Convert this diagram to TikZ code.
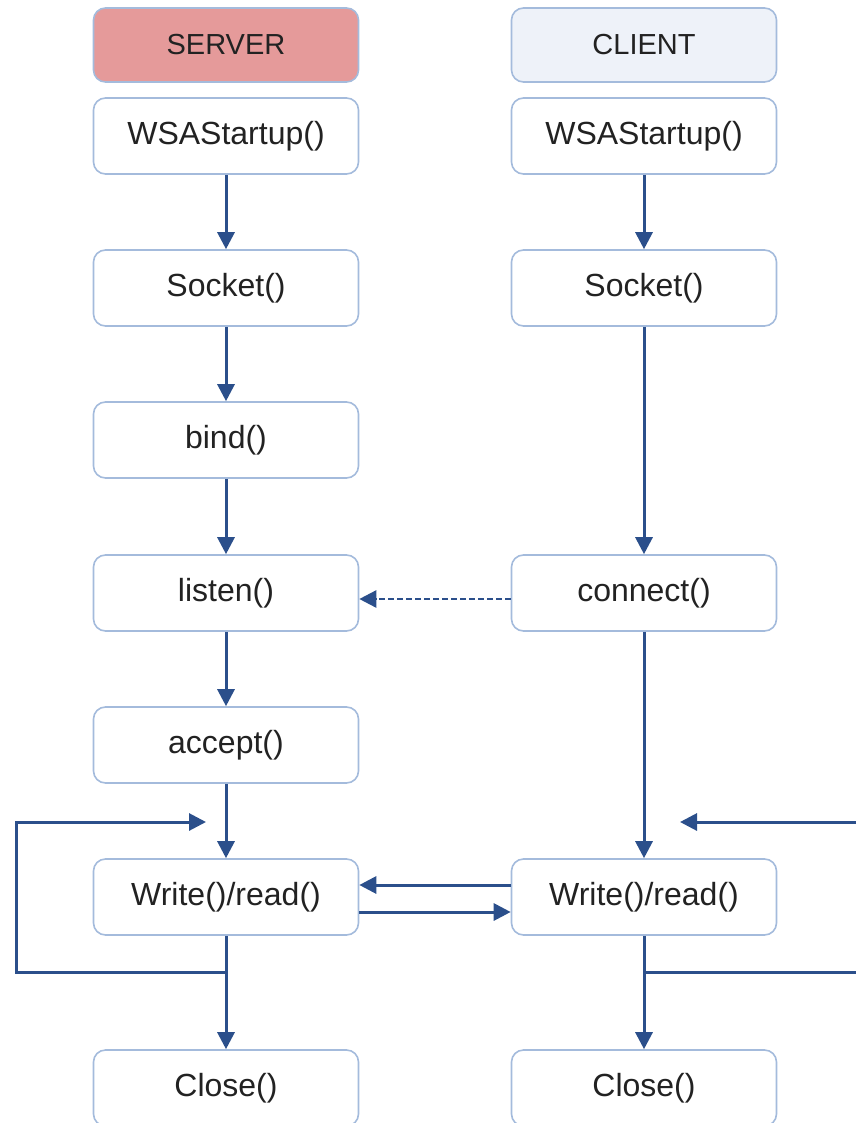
\documentclass[tikz,border=0pt]{standalone}
\usepackage{fontspec}
\setmainfont{Liberation Sans}
\usetikzlibrary{arrows.meta}
\definecolor{boxline}{HTML}{A4BBDC}
\definecolor{flow}{HTML}{2B4F8B}
\definecolor{srvfill}{HTML}{E59A9A}
\definecolor{clifill}{HTML}{EEF2F9}
\definecolor{txt}{HTML}{222222}

\tikzset{
  call/.style={draw=boxline,line width=1.6pt,rounded corners=12pt,fill=white,
    minimum width=265pt,minimum height=76pt,text=txt,font=\fontsize{32}{36}\selectfont},
  head/.style={call,minimum height=74pt,font=\fontsize{29}{34}\selectfont},
  flowline/.style={draw=flow,line width=3pt,-{Triangle[length=17pt,width=17pt]}},
}

\begin{document}
\begin{tikzpicture}[x=1pt,y=-1pt]
\useasboundingbox (0,0) rectangle (856,1123);
% the two headers
\node[head,fill=srvfill] (srv) at (226,45) {SERVER};
\node[head,fill=clifill] (cli) at (644,45) {CLIENT};
% the server calls
\foreach \n/\t/\y in {swsa/WSAStartup()/136, ssock/Socket()/288, sbind/bind()/440,
    slis/listen()/593, sacc/accept()/745, swr/Write()\slash read()/897, sclo/Close()/1088}
  \node[call] (\n) at (226,\y) {\t};
% the client calls
\foreach \n/\t/\y in {cwsa/WSAStartup()/136, csock/Socket()/288, ccon/connect()/593,
    cwr/Write()\slash read()/897, cclo/Close()/1088}
  \node[call] (\n) at (644,\y) {\t};
% the arrows down each column
\foreach \a/\b in {swsa/ssock, ssock/sbind, sbind/slis, slis/sacc, sacc/swr, swr/sclo,
    cwsa/csock, csock/ccon, ccon/cwr, cwr/cclo}
  \draw[flowline] (\a) -- (\b);
% the connect request
\draw[flowline,dash pattern=on 6pt off 3pt,line width=2.5pt] ([yshift=-6pt]ccon.west) -- ([yshift=-6pt]slis.east);
% the data between the two
\draw[flowline] ([yshift=12pt]cwr.west) -- ([yshift=12pt]swr.east);
\draw[flowline] ([yshift=-15pt]swr.east) -- ([yshift=-15pt]cwr.west);
% the loops
\coordinate (sout) at (226,972);
\coordinate (sin) at (206,822);
\coordinate (cout) at (644,972);
\coordinate (cin) at (680,822);
\draw[flowline] (sout) -- (16,972) -- (16,822) -- (sin);
\draw[flow,line width=3pt] (cout) -- (856,972);
\draw[flowline] (856,822) -- (cin);
\end{tikzpicture}
\end{document}
